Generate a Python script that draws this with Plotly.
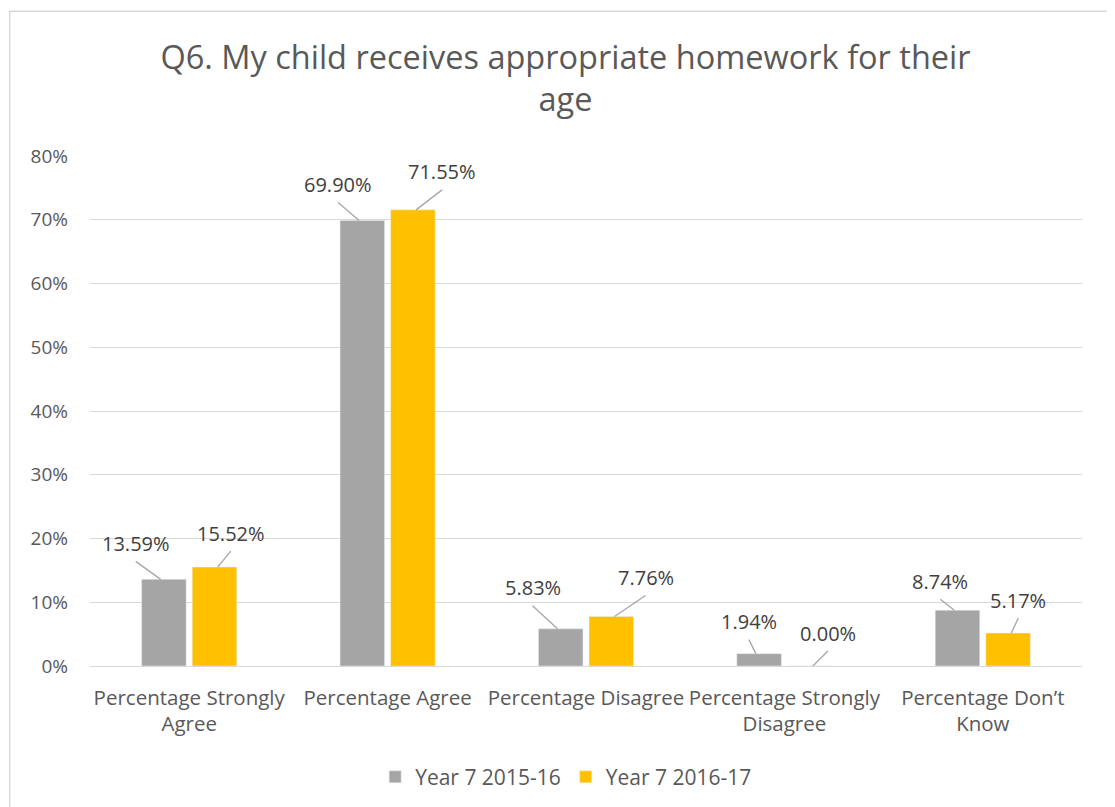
import plotly.graph_objects as go

categories = ["Percentage Strongly<br>Agree", "Percentage Agree", "Percentage Disagree",
              "Percentage Strongly<br>Disagree", "Percentage Don\u2019t<br>Know"]
year_2015 = [13.59, 69.90, 5.83, 1.94, 8.74]
year_2016 = [15.52, 71.55, 7.76, 0.00, 5.17]
series_names = ["Year 7 2015-16", "Year 7 2016-17"]

# label offsets in pixels from the bar top (leader lines like the excel chart)
off_2015 = [(-25, -36), (-21, -36), (-25, -41), (-7, -32), (-14, -29)]
off_2016 = [(13, -34), (26, -38), (31, -39), (15, -33), (7, -33)]

font = "Open Sans"
txt = "#595959"

fig = go.Figure()
fig.add_trace(go.Bar(x=categories, y=year_2015, name=series_names[0], marker_color="#A5A5A5"))
fig.add_trace(go.Bar(x=categories, y=year_2016, name=series_names[1], marker_color="#FFC000"))

annotations = []
shapes = []
for vals, offs, shift in [(year_2015, off_2015, -28.5), (year_2016, off_2016, 28.5)]:
    for i, v in enumerate(vals):
        dx, dy = offs[i]
        annotations.append(dict(
            x=categories[i], y=v, xref="x", yref="y",
            xshift=shift + dx, yshift=-dy, showarrow=False,
            text="%.2f%%" % v,
            font=dict(family=font, size=20, color="#404040"),
        ))
        shapes.append(dict(
            type="line", xref="x", yref="y",
            xsizemode="pixel", xanchor=categories[i], x0=shift, x1=shift + dx,
            ysizemode="pixel", yanchor=v, y0=0, y1=-(dy + 18),
            line=dict(color="#A6A6A6", width=1.3),
        ))

# light chart border
shapes.append(dict(type="rect", xref="paper", yref="paper", x0=-0.081, x1=1.1, y0=-0.5, y1=1.284,
                   line=dict(color="#D9D9D9", width=1.5)))

fig.update_layout(
    width=1115, height=807,
    margin=dict(l=82, r=41, t=148, b=149),
    paper_bgcolor="white", plot_bgcolor="white",
    font=dict(family=font, color=txt),
    title=dict(text="Q6. My child receives appropriate homework for their<br>age",
               xref="container", x=0.5, xanchor="center", y=0.925, yanchor="middle",
               font=dict(family=font, size=32.5, color=txt)),
    barmode="group", bargap=0.49, bargroupgap=0.12,
    showlegend=True,
    legend=dict(orientation="h", x=0.48, xanchor="center", y=-0.218, yanchor="middle",
                font=dict(family=font, size=21, color=txt)),
    annotations=annotations,
    shapes=shapes,
)
fig.update_yaxes(range=[0, 80], dtick=10, ticksuffix="%", showgrid=True, gridcolor="#D9D9D9",
                 gridwidth=1, zeroline=False, showline=False, ticklabelstandoff=21,
                 automargin=False, tickfont=dict(family=font, size=19, color=txt), ticks="")
fig.update_xaxes(showline=True, linecolor="#D9D9D9", linewidth=1, ticks="", ticklabelstandoff=13,
                 tickangle=0, automargin=False, tickfont=dict(family=font, size=20.5, color=txt))

fig.write_html("out.html")
